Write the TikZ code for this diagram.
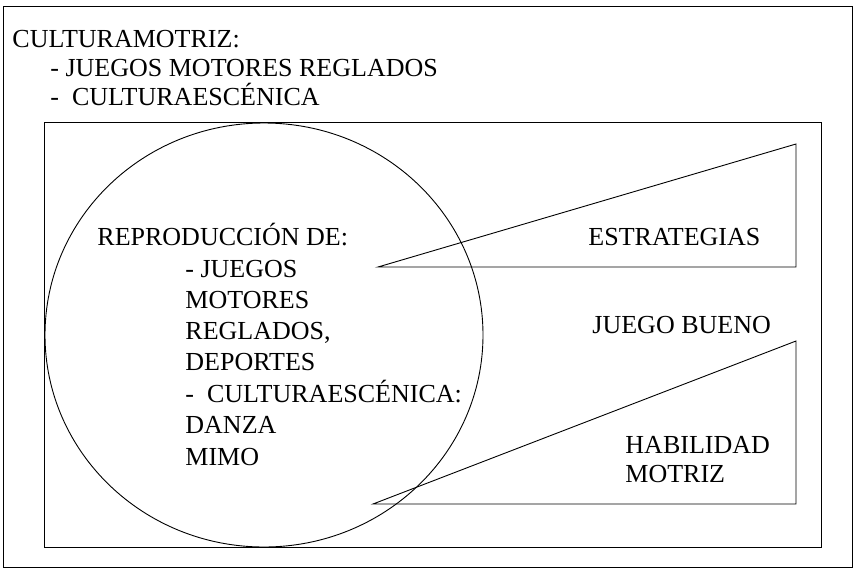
\documentclass[tikz,border=0pt]{standalone}
\usepackage{fontspec}
\setmainfont{Liberation Serif}
\begin{document}
\begin{tikzpicture}[x=1pt,y=-1pt, line width=0.9pt,
  lbl/.style={anchor=base west, inner sep=0pt, font=\fontsize{26}{31}\selectfont}]
\useasboundingbox (0,0) rectangle (854,568);
% frames
\draw (3,6) rectangle (852,567);
\draw (44,122) rectangle (821,547);
% circle
\draw (264,335) ellipse [x radius=219pt, y radius=212pt];
% triangles
\coordinate (t1a) at (378,267);
\coordinate (t1b) at (796,144);
\coordinate (t1c) at (796,267);
\draw (t1a) -- (t1b) -- (t1c) -- cycle;
\coordinate (t2a) at (373,504);
\coordinate (t2b) at (796,341);
\coordinate (t2c) at (796,504);
\draw (t2a) -- (t2b) -- (t2c) -- cycle;
% header
\node[lbl] (h1) at (12,47) {CULTURAMOTRIZ:};
\node[lbl] (h2) at (50,76) {- JUEGOS MOTORES REGLADOS};
\node[lbl] (h3) at (50,105) {-\hspace{0.5em}CULTURAESCÉNICA};
% circle text
\node[lbl] (r0) at (97,245) {REPRODUCCIÓN DE:};
\node[lbl] (r1) at (185,277) {- JUEGOS};
\node[lbl] (r2) at (185,308) {MOTORES};
\node[lbl] (r3) at (185,339) {REGLADOS,};
\node[lbl] (r4) at (185,370) {DEPORTES};
\node[lbl] (r5) at (185,402) {-\hspace{0.5em}CULTURAESCÉNICA:};
\node[lbl] (r6) at (185,433) {DANZA};
\node[lbl] (r7) at (185,465) {MIMO};
% right texts
\node[lbl] (es) at (588,245) {ESTRATEGIAS};
\node[lbl] (jb) at (592,333) {JUEGO BUENO};
\node[lbl] (hab) at (625,453) {HABILIDAD};
\node[lbl] (mot) at (625,482) {MOTRIZ};
\end{tikzpicture}
\end{document}
